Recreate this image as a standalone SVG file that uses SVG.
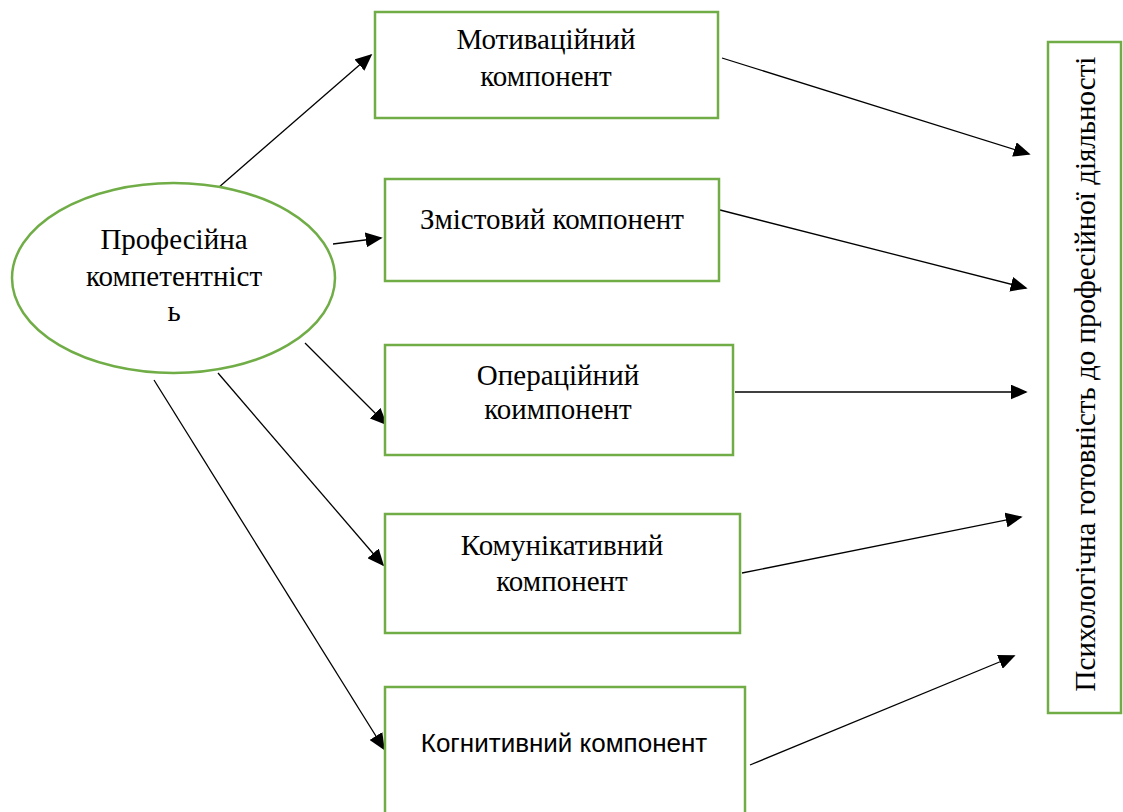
<svg xmlns="http://www.w3.org/2000/svg" width="1123" height="812" viewBox="0 0 1123 812">
<style>
.box{fill:#fff;stroke:#70AD47;stroke-width:2.5}
.t{font-family:'Liberation Serif','DejaVu Serif','Times New Roman',serif;font-size:29px;fill:#000;text-anchor:middle}
.s{font-family:'Liberation Sans','DejaVu Sans',Arial,sans-serif;font-size:26px;fill:#000;text-anchor:middle}
.c{stroke:#000;stroke-width:1.3;fill:none;marker-end:url(#ah)}
</style>
<defs>
<marker id="ah" viewBox="0 0 10 10" refX="9" refY="5" markerWidth="17" markerHeight="15" markerUnits="userSpaceOnUse" orient="auto" preserveAspectRatio="none">
<path d="M0,0 L10,5 L0,10 z" fill="#000"/>
</marker>
</defs>
<rect width="1123" height="812" fill="#fff"/>
<g id="connectors">
<line class="c" x1="218" y1="188" x2="371" y2="55"/>
<line class="c" x1="333" y1="244" x2="381" y2="238"/>
<line class="c" x1="305" y1="343" x2="386" y2="424"/>
<line class="c" x1="218" y1="373" x2="383" y2="565"/>
<line class="c" x1="154" y1="380" x2="384" y2="749"/>
<line class="c" x1="722" y1="58" x2="1029" y2="154"/>
<line class="c" x1="720" y1="210" x2="1026" y2="288"/>
<line class="c" x1="735" y1="392" x2="1026" y2="392"/>
<line class="c" x1="742" y1="573" x2="1021" y2="517"/>
<line class="c" x1="750" y1="765" x2="1014" y2="656"/>
</g>
<g id="ellipse">
<ellipse cx="173.5" cy="278" rx="161.5" ry="95" fill="#fff" stroke="#70AD47" stroke-width="2.5"/>
<text class="t" x="174" y="249">Професійна</text>
<text class="t" x="174" y="286">компетентніст</text>
<text class="t" x="174" y="321">ь</text>
</g>
<g id="box1">
<rect class="box" x="375" y="12" width="343" height="106"/>
<text class="t" x="546" y="49">Мотиваційний</text>
<text class="t" x="546" y="86">компонент</text>
</g>
<g id="box2">
<rect class="box" x="385" y="179" width="334" height="102"/>
<text class="t" x="552" y="229">Змістовий компонент</text>
</g>
<g id="box3">
<rect class="box" x="385" y="345" width="348" height="110"/>
<text class="t" x="558" y="385">Операційний</text>
<text class="t" x="558" y="419">коимпонент</text>
</g>
<g id="box4">
<rect class="box" x="385" y="514" width="355" height="119"/>
<text class="t" x="562" y="555">Комунікативний</text>
<text class="t" x="562" y="591">компонент</text>
</g>
<g id="box5">
<rect class="box" x="385" y="687" width="360" height="140"/>
<text class="s" x="564" y="752">Когнитивний компонент</text>
</g>
<g id="result">
<rect class="box" x="1048" y="42" width="73" height="671"/>
<text class="t" transform="translate(1095,374) rotate(-90)">Психологічна готовність до професійної діяльності</text>
</g>
</svg>
